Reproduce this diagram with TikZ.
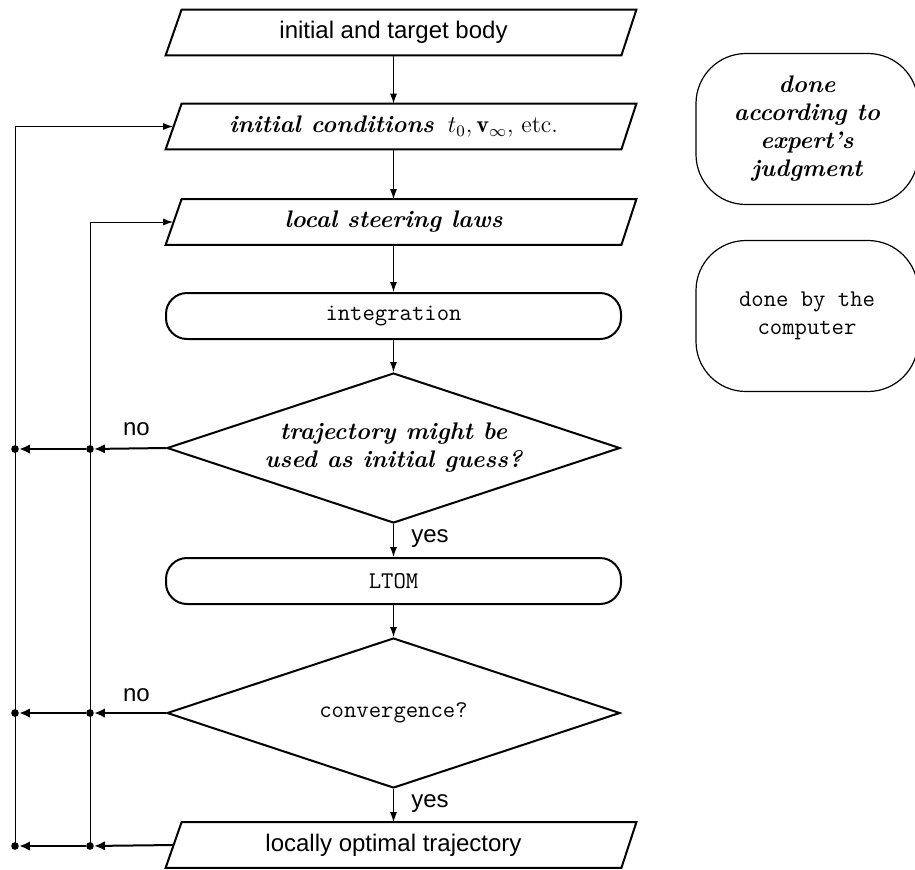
\documentclass[tikz,border=0pt]{standalone}
\usepackage{fontspec}
\setsansfont{Liberation Sans}
\usetikzlibrary{arrows.meta,shapes.geometric,calc}

% parallelogram (input/output) outline drawn around a named rectangle node
\newcommand\ioshape[1]{%
  \draw[outline] (#1.south west) -- (#1.south east)
    -- ($(#1.north east)+(15,0)$) -- ($(#1.north west)+(16,0)$) -- cycle;}

\begin{document}
\begin{tikzpicture}[x=0.5pt,y=-0.5pt,
  txt/.style={font=\fontsize{12}{14}\selectfont},
  sftxt/.style={font=\fontsize{12}{14}\selectfont\sffamily},
  tttxt/.style={font=\fontsize{12}{14}\selectfont\ttfamily},
  bitxt/.style={font=\fontsize{12}{14}\selectfont\bfseries\itshape},
  outline/.style={draw, line width=1pt},
  iobox/.style={rectangle, minimum width=227.5pt, minimum height=22.5pt, inner sep=0pt},
  termbox/.style={rectangle, outline, rounded corners=10.5pt, minimum width=227.5pt,
    minimum height=23pt, inner sep=0pt},
  decision/.style={diamond, outline, aspect=3.02, minimum width=226.5pt,
    minimum height=75pt, inner sep=0pt, align=center},
  keybox/.style={rectangle, draw, line width=0.6pt, rounded corners=25pt,
    minimum width=111pt, minimum height=75.5pt, align=center},
  dot/.style={circle, fill, inner sep=0pt, minimum size=3.8pt},
  flow/.style={line width=0.5pt, -{Latex[length=5pt,width=3.5pt]}},
  back/.style={line width=1pt, -{Latex[length=5.3pt,width=4.7pt]}},
  feed/.style={line width=0.5pt, -{Latex[length=5pt,width=3.5pt]}}
]
\useasboundingbox (0,0) rectangle (915,869);

% main column
\node[iobox, sftxt] (body) at (393.5,32.5) {initial and target body};
\ioshape{body}
\node[iobox, txt] (init) at (393.5,126.5)
  {\textbf{\textit{initial conditions}}\hspace{7pt}$t_0,\mathbf{v}_\infty$, etc.};
\ioshape{init}
\node[iobox, bitxt] (steer) at (393.5,222) {local steering laws};
\ioshape{steer}
\node[termbox, tttxt] (integ) at (393.5,316) {integration};
\node[decision, bitxt] (guess) at (393.5,448)
  {trajectory might be\\used as initial guess?};
\node[termbox, tttxt] (ltom) at (393.5,581) {LTOM};
\node[decision, tttxt] (conv) at (393.5,713) {convergence?};
\node[iobox, sftxt] (result) at (393.5,845) {locally optimal trajectory};
\ioshape{result}

% legend
\node[keybox, bitxt] (expert) at (807,129) {done\\according to\\expert's\\judgment};
\node[keybox, tttxt] (comp) at (807,316) {done by the\\computer};

% junction dots
\node[dot] (gi) at (90,449) {};
\node[dot] (go) at (15,449) {};
\node[dot] (ci) at (90,713) {};
\node[dot] (co) at (15,713) {};
\node[dot] (ri) at (90,846) {};
\node[dot] (ro) at (15,846) {};

% forward flow
\draw[flow] (body.south) -- (init.north);
\draw[flow] (init.south) -- (steer.north);
\draw[flow] (steer.south) -- (integ.north);
\draw[flow] (integ.south) -- (guess.north);
\draw[flow] (guess.south) -- (ltom.north);
\draw[flow] (ltom.south) -- (conv.north);
\draw[flow] (conv.south) -- (result.north);

% branch labels
\node[sftxt] (no1) at (136.5,429.5) {no};
\node[sftxt] (no2) at (136.5,695.5) {no};
\node[sftxt] (yes1) at (430,538.5) {yes};
\node[sftxt] (yes2) at (430,803.5) {yes};

% returns to the left
\draw[back] (guess.west) -- (gi);
\draw[back] (gi) -- (go);
\draw[back] (conv.west) -- (ci);
\draw[back] (ci) -- (co);
\draw[back] ($(result.west)+(7.5,0)$) -- (ri);
\draw[back] (ri) -- (ro);

% feedback lines
\draw[feed] (ro.center) |- ($(init.west)+(7.5,0)$);
\draw[feed] (ri.center) |- ($(steer.west)+(7.5,0)$);
\end{tikzpicture}
\end{document}
